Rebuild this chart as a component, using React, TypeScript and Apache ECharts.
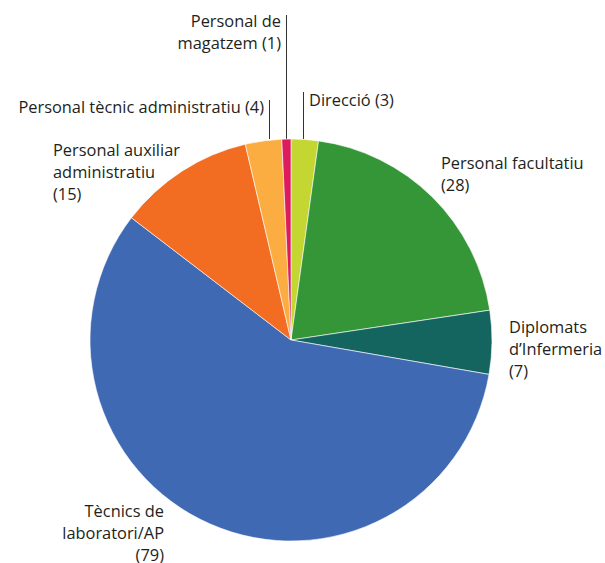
import React, { useEffect, useRef } from "react";
import * as echarts from "echarts";

const categories = [
  "Direcció",
  "Personal facultatiu",
  "Diplomats d’Infermeria",
  "Tècnics de laboratori/AP",
  "Personal auxiliar administratiu",
  "Personal tècnic administratiu",
  "Personal de magatzem",
];
const values = [3, 28, 7, 79, 15, 4, 1];
const labelTexts = [
  "Direcció (3)",
  "Personal facultatiu\n(28)",
  "Diplomats\nd’Infermeria\n(7)",
  "Tècnics de\nlaboratori/AP\n(79)",
  "Personal auxiliar\nadministratiu\n(15)",
  "Personal tècnic administratiu (4)",
  "Personal de\nmagatzem (1)",
];
const colors = ["#c3d631", "#359637", "#146560", "#4069b4", "#f26c22", "#fbad41", "#dc1c5c"];

const labelPos: { x: number; y: number; align: string }[] = [
  { x: 309, y: 89, align: "left" },
  { x: 441, y: 152, align: "left" },
  { x: 509, y: 316, align: "left" },
  { x: 164, y: 500, align: "right" },
  { x: 53, y: 139, align: "left" },
  { x: 264, y: 96, align: "right" },
  { x: 281, y: 10, align: "right" },
];

export default function App() {
  const ref = useRef<HTMLDivElement>(null);
  useEffect(() => {
    if (!ref.current) return;
    const chart = echarts.init(ref.current, undefined, { renderer: "svg" });
    const textColor = "#231f20";
    chart.setOption({
      animation: false,
      backgroundColor: "#ffffff",
      textStyle: { fontFamily: "Open Sans" },
      graphic: [
        { type: "line", shape: { x1: 286.5, y1: 15, x2: 286.5, y2: 139 }, style: { stroke: "#333", lineWidth: 1 } },
        { type: "line", shape: { x1: 303.5, y1: 92, x2: 303.5, y2: 139 }, style: { stroke: "#333", lineWidth: 1 } },
        { type: "line", shape: { x1: 269.5, y1: 100, x2: 269.5, y2: 139 }, style: { stroke: "#333", lineWidth: 1 } },
      ],
      series: [
        {
          type: "pie",
          center: [291, 340],
          radius: 201,
          startAngle: 90,
          clockwise: true,
          avoidLabelOverlap: false,
          itemStyle: { borderColor: "#ffffff", borderWidth: 0.6 },
          label: {
            show: true,
            color: textColor,
            fontSize: 16.4,
            fontFamily: "Open Sans",
            lineHeight: 21.7,
            formatter: (p: any) => labelTexts[p.dataIndex],
          },
          labelLine: { show: false },
          labelLayout: (p: any) => {
            const lp = labelPos[p.dataIndex];
            return { x: lp.x, y: lp.y, align: lp.align, verticalAlign: "top", hideOverlap: false };
          },
          emphasis: { disabled: true },
          data: categories.map((c, i) => ({
            name: c,
            value: values[i],
            itemStyle: { color: colors[i] },
          })),
        },
      ],
    });
    return () => chart.dispose();
  }, []);
  return (
    <div
      ref={ref}
      style={{ position: "fixed", left: 0, top: 0, width: 605, height: 563 }}
    />
  );
}
